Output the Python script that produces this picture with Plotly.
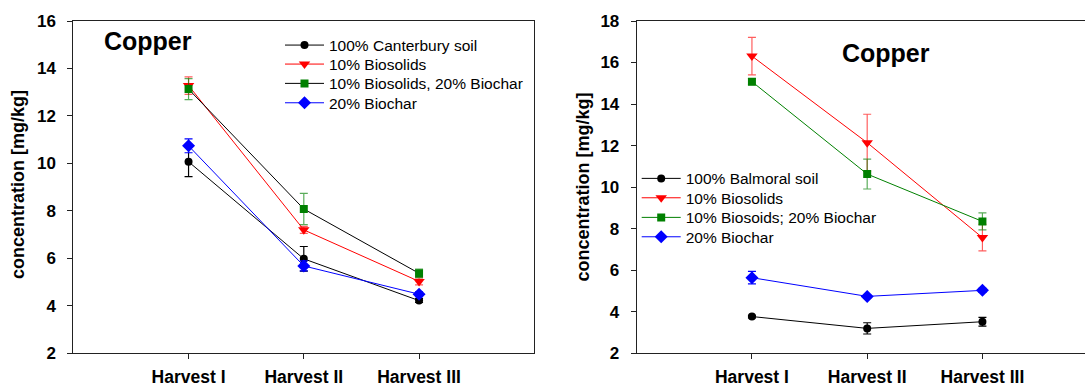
import plotly.graph_objects as go

W, H = 1085, 387

categories = ["Harvest I", "Harvest II", "Harvest III"]

# Left panel (Canterbury soil)
left_names = ["100% Canterbury soil", "10% Biosolids", "10% Biosolids, 20% Biochar", "20% Biochar"]
left_soil = [10.07, 5.98, 4.22]
left_soil_err = [0.63, 0.52, 0.08]
left_biosolids = [13.28, 7.2, 5.03]
left_biosolids_err = [0.37, 0.15, 0.15]
left_bios_biochar = [13.13, 8.08, 5.37]
left_bios_biochar_err = [0.44, 0.66, 0.18]
left_biochar = [10.74, 5.68, 4.49]
left_biochar_err = [0.29, 0.21, 0.1]

# Right panel (Balmoral soil)
right_names = ["100% Balmoral soil", "10% Biosolids", "10% Biosoids; 20% Biochar", "20% Biochar"]
right_soil = [3.77, 3.2, 3.52]
right_soil_err = [0.06, 0.27, 0.21]
right_biosolids = [16.31, 12.14, 7.57]
right_biosolids_err = [0.9, 1.37, 0.64]
right_bios_biochar = [15.08, 10.63, 8.35]
right_bios_biochar_err = [0.15, 0.72, 0.41]
right_biochar = [5.64, 4.74, 5.03]
right_biochar_err = [0.3, 0.08, 0.1]

y_left_ticks = [2, 4, 6, 8, 10, 12, 14, 16]
y_right_ticks = [2, 4, 6, 8, 10, 12, 14, 16, 18]

FONT = "Liberation Sans, Arial, sans-serif"

def px_x(v):
    return v / W

def px_y(v):
    return 1 - v / H

styles = [
    dict(symbol="circle", size=8, mcolor="#000000", lcolor="#000000", ecolor="#000000"),
    dict(symbol="triangle-down", size=10, mcolor="#ff0000", lcolor="#ff0000", ecolor="rgba(255,40,40,0.75)"),
    dict(symbol="square", size=8, mcolor="#008000", lcolor=None, ecolor="rgba(0,128,0,0.65)"),
    dict(symbol="diamond", size=10, mcolor="#0000ff", lcolor="#0000ff", ecolor="#0000ff"),
]

fig = go.Figure()

left_series = [(left_soil, left_soil_err), (left_biosolids, left_biosolids_err),
               (left_bios_biochar, left_bios_biochar_err), (left_biochar, left_biochar_err)]
right_series = [(right_soil, right_soil_err), (right_biosolids, right_biosolids_err),
                (right_bios_biochar, right_bios_biochar_err), (right_biochar, right_biochar_err)]

# legend item centres (pixels from top)
left_leg_centres = [45, 64, 83.3, 102.7]
right_leg_centres = [178.3, 197.7, 217.3, 236.7]
LEG_OFFSET = 16.5

legend_layouts = {}
for i, ((vals, err), name) in enumerate(zip(left_series, left_names)):
    s = styles[i]
    lc = s["lcolor"] if s["lcolor"] else "#000000"
    lname = "legend" if i == 0 else f"legend{i + 1}"
    fig.add_trace(go.Scatter(
        x=categories, y=vals, name=name, mode="lines+markers",
        line=dict(color=lc, width=1),
        marker=dict(symbol=s["symbol"], size=s["size"], color=s["mcolor"], line=dict(width=0)),
        error_y=dict(type="data", array=err, visible=True, color=s["ecolor"], thickness=1.2, width=4),
        xaxis="x", yaxis="y", legend=lname,
    ))
    legend_layouts[lname] = dict(x=px_x(280), y=px_y(left_leg_centres[i] - LEG_OFFSET),
                                 xanchor="left", yanchor="top", itemwidth=39,
                                 bgcolor="rgba(0,0,0,0)", borderwidth=0,
                                 font=dict(size=15.5, family=FONT), itemclick=False)

for i, ((vals, err), name) in enumerate(zip(right_series, right_names)):
    s = styles[i]
    lc = s["lcolor"] if s["lcolor"] else "#008000"
    lname = f"legend{i + 5}"
    fig.add_trace(go.Scatter(
        x=categories, y=vals, name=name, mode="lines+markers",
        line=dict(color=lc, width=1),
        marker=dict(symbol=s["symbol"], size=s["size"], color=s["mcolor"], line=dict(width=0)),
        error_y=dict(type="data", array=err, visible=True, color=s["ecolor"], thickness=1.2, width=4),
        xaxis="x2", yaxis="y2", legend=lname,
    ))
    legend_layouts[lname] = dict(x=px_x(636.7), y=px_y(right_leg_centres[i] - LEG_OFFSET),
                                 xanchor="left", yanchor="top", itemwidth=39,
                                 bgcolor="rgba(0,0,0,0)", borderwidth=0,
                                 font=dict(size=15.5, family=FONT), itemclick=False)

axis_common = dict(showgrid=False, zeroline=False, showline=True, linecolor="#222222", linewidth=1,
                   ticks="outside", ticklen=5, tickwidth=1, tickcolor="#222222", automargin=False)

ydom = [px_y(353.3), px_y(21)]

fig.update_layout(
    width=W, height=H,
    margin=dict(l=0, r=0, t=0, b=0, pad=0),
    paper_bgcolor="white", plot_bgcolor="white",
    font=dict(family=FONT, color="#000000"),
    showlegend=True,
    xaxis=dict(domain=[px_x(73.3), px_x(534.3)], type="category", categoryorder="array",
               categoryarray=categories, range=[-1, 3], mirror=True,
               tickfont=dict(size=17.5, weight="bold", family=FONT), ticklabelstandoff=3,
               anchor="y", **axis_common),
    yaxis=dict(domain=ydom, range=[2, 16], tickvals=y_left_ticks, mirror=True,
               tickfont=dict(size=17, weight="bold", family=FONT), ticklabelstandoff=8,
               anchor="x", **axis_common),
    xaxis2=dict(domain=[px_x(636.7), 1.0], type="category", categoryorder="array",
                categoryarray=categories, range=[-1, 2.89], mirror=True,
                tickfont=dict(size=17.5, weight="bold", family=FONT), ticklabelstandoff=3,
                anchor="y2", **axis_common),
    yaxis2=dict(domain=ydom, range=[2, 18], tickvals=y_right_ticks, mirror=False,
                tickfont=dict(size=17, weight="bold", family=FONT), ticklabelstandoff=8,
                anchor="x2", **axis_common),
    annotations=[
        dict(text="Copper", x=px_x(147.5), y=px_y(41), xref="paper", yref="paper",
             xanchor="center", yanchor="middle", showarrow=False,
             font=dict(size=25, weight="bold", family=FONT)),
        dict(text="Copper", x=px_x(885.5), y=px_y(53), xref="paper", yref="paper",
             xanchor="center", yanchor="middle", showarrow=False,
             font=dict(size=25, weight="bold", family=FONT)),
        dict(text="concentration [mg/kg]", x=px_x(18), y=px_y(185), xref="paper", yref="paper",
             xanchor="center", yanchor="middle", showarrow=False, textangle=-90,
             font=dict(size=18, weight="bold", family=FONT)),
        dict(text="concentration [mg/kg]", x=px_x(582), y=px_y(187.5), xref="paper", yref="paper",
             xanchor="center", yanchor="middle", showarrow=False, textangle=-90,
             font=dict(size=18, weight="bold", family=FONT)),
    ],
)
fig.update_layout(**legend_layouts)

fig.write_html("out.html", config={"displayModeBar": False},
               post_script="document.body.style.margin='0';document.body.style.overflow='hidden';")
